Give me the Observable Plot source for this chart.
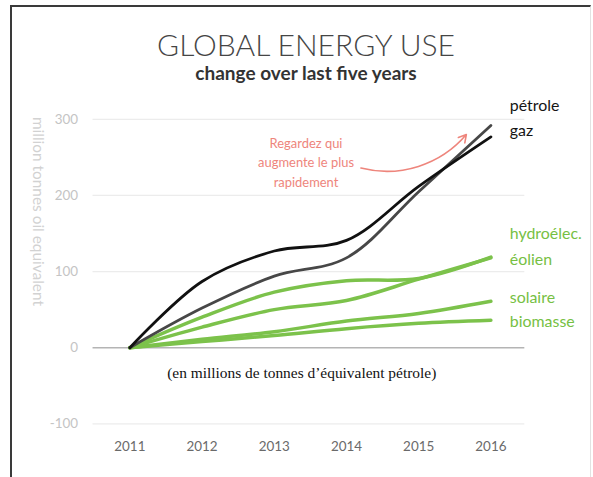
<!DOCTYPE html>
<html><head><meta charset="utf-8">
<script src="https://cdn.jsdelivr.net/npm/d3@7"></script>
<script src="https://cdn.jsdelivr.net/npm/@observablehq/plot@0.6"></script>
<style>
body{margin:0;background:#fff;width:593px;height:477px;overflow:hidden;position:relative;}
#frame{position:absolute;left:10px;top:5px;width:578px;height:480px;border-left:2px solid #3a3a3a;border-top:2px solid #3a3a3a;border-right:1px solid #e2e2e2;pointer-events:none;}
#title{position:absolute;left:0;width:612px;top:29px;text-align:center;font-family:Lato,"Open Sans",sans-serif;font-weight:300;font-size:30px;color:#454545;line-height:31px;}
#subtitle{position:absolute;left:0;width:612px;top:62px;text-align:center;font-family:Lato,"Open Sans",sans-serif;font-weight:700;font-size:19px;color:#333;line-height:21px;}
#chart{position:absolute;left:0;top:90px;width:590px;height:387px;overflow:hidden;}
</style></head>
<body>
<div id="title">GLOBAL ENERGY USE</div>
<div id="subtitle">change over last five years</div>
<div id="chart"></div>
<div id="frame"></div>
<script>
const years = [2011, 2012, 2013, 2014, 2015, 2016];
const petrole  = [0, 52, 94, 118, 205, 292];
const gaz      = [0, 87, 127, 141, 212, 277];
const hydro    = [0, 40, 73, 88, 91, 119];
const eolien   = [0, 27, 50, 62, 90, 118];
const solaire  = [0, 11, 21, 35, 45, 61];
const biomasse = [0, 8, 16, 25, 32, 36];
const yTicks = [-100, 0, 100, 200, 300];

const seriesNames = ["pétrole", "gaz", "hydroélec.", "éolien", "solaire", "biomasse"];
const labelValues = [318, 285, 149, 116, 66, 34];
const yLabel = "million tonnes oil equivalent";
const unitNote = "(en millions de tonnes d’équivalent pétrole)";
const noteText = "Regardez qui\naugmente le plus\nrapidement";

const toRows = (name, vals) => years.map((year, i) => ({series: name, year, value: vals[i]}));
const blackRows = [...toRows("pétrole", petrole), ...toRows("gaz", gaz)];
const greenRows = [...toRows("hydroélec.", hydro), ...toRows("éolien", eolien), ...toRows("solaire", solaire), ...toRows("biomasse", biomasse)];
const labels = seriesNames.map((name, i) => ({name, value: labelValues[i], dark: i < 2}));

const GREEN = "#7cc24b";
const font = "Lato, 'Open Sans', sans-serif";

const chart = Plot.plot({
  width: 593,
  height: 387,
  marginLeft: 93,
  marginRight: 66,
  marginTop: 29,
  marginBottom: 52,
  style: {fontFamily: font, background: "transparent", overflow: "visible"},
  x: {type: "linear", domain: [2010.49, 2016.47]},
  y: {domain: [-100, 300]},
  marks: [
    Plot.ruleY(yTicks.filter(d => d !== 0), {stroke: "#ececec", strokeWidth: 1.2}),
    Plot.ruleY([0], {stroke: "#b4b4b4", strokeWidth: 1.5}),
    Plot.axisY({ticks: yTicks, tickSize: 0, tickPadding: 15, tickFormat: d => String(d), color: "#c4c4c4", fontSize: 13.5, label: null}),
    Plot.axisX({ticks: years, tickSize: 0, tickPadding: 18, tickFormat: d => String(d), color: "#6a6a6a", fontSize: 13.5, label: null}),
    Plot.text([yLabel], {text: d => d, x: () => 2009.73, y: () => 179, rotate: 90, fill: "#d2d2d2", fontSize: 15.5}),
    Plot.line(greenRows, {x: "year", y: "value", z: "series", stroke: GREEN, strokeWidth: 3.5, curve: "catmull-rom", strokeLinecap: "round"}),
    Plot.line(blackRows, {x: "year", y: "value", z: "series", stroke: d => d.series === "gaz" ? "#111" : "#474747", strokeWidth: 2.8, curve: "catmull-rom", strokeLinecap: "round"}),
    Plot.text(labels, {x: () => 2016, y: "value", text: "name", dx: 19, textAnchor: "start", fill: d => d.dark ? "#151515" : "#76c043", fontSize: 16}),
    Plot.text([noteText], {x: () => 2013.44, y: () => 245, text: d => d, fill: "#ee857c", fontSize: 13, lineHeight: 1.5}),
    Plot.arrow([0], {x1: () => 2014.2, y1: () => 236, x2: () => 2015.66, y2: () => 280, bend: -32, stroke: "#ee857c", strokeWidth: 1.6, headLength: 8}),
    Plot.text([unitNote], {x: () => 2013.38, y: () => -34, text: d => d, fill: "#111", fontSize: 15.5, fontFamily: "'Liberation Serif', 'DejaVu Serif', serif"})
  ]
});
document.getElementById("chart").appendChild(chart);
</script>
</body></html>
